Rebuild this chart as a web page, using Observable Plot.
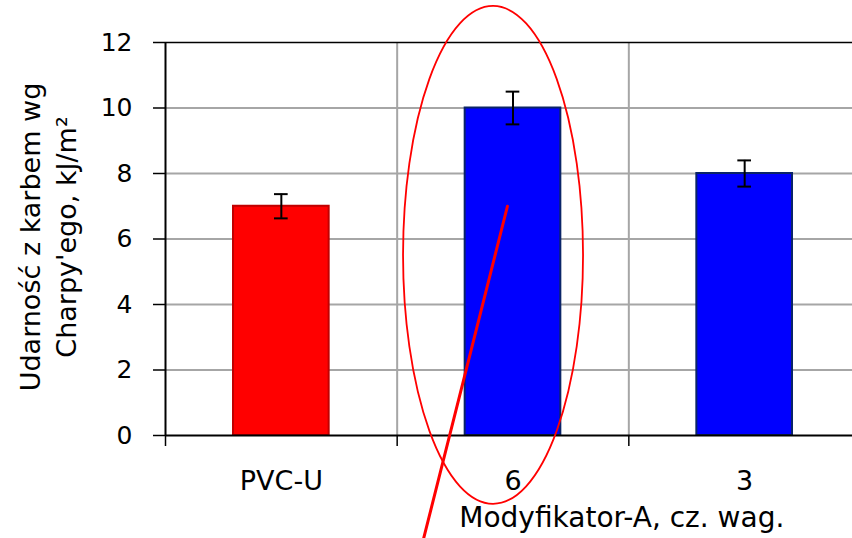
<!DOCTYPE html>
<html>
<head>
<meta charset="utf-8">
<script src="https://cdn.jsdelivr.net/npm/d3@7"></script>
<script src="https://cdn.jsdelivr.net/npm/@observablehq/plot@0.6"></script>
<style>
  html, body { margin: 0; padding: 0; background: #fff; }
  svg { display: block; }
</style>
</head>
<body>
<div id="chart"></div>
<script>
const categories = ["PVC-U", "6", "3"];
const values = [7, 10, 8];
const errors = [0.37, 0.5, 0.4];
const fills = ["#ff0000", "#0000ff", "#0000ff"];
const strokes = ["#c00000", "#0a2468", "#0a2468"];
const yTicks = [0, 2, 4, 6, 8, 10, 12];
const yGrid = [2, 4, 6, 8, 10];
const yLabel = "Udarność z karbem wg\nCharpy'ego, kJ/m²";
const xLabel = "Modyfikator-A, cz. wag.";
// annotation (red ellipse and stroke), in data units: x = category index, y = value
const ellipseAnno = {cx: 1.416, cy: 5.5, rx: 0.3885, ry: 7.6};
const lineAnno = [{x: 1.476, y: 7.0}, {x: 1.114, y: -3.15}];

const data = categories.map((c, i) => ({c, i, v: values[i], e: errors[i], fill: fills[i], stroke: strokes[i]}));
const font = "DejaVu Sans, Verdana, sans-serif";

const plot = Plot.plot({
  width: 852,
  height: 538,
  marginLeft: 165,
  marginRight: 0,
  marginTop: 42,
  marginBottom: 103,
  style: {fontFamily: font, color: "#000", background: "#fff", overflow: "visible"},
  x: {domain: [0, 3], range: [165, 860], axis: null},
  y: {domain: [0, 12], axis: null},
  marks: [
    Plot.ruleY(yGrid, {stroke: "#a6a6a6", strokeWidth: 2}),
    Plot.ruleX([1, 2], {y1: 0, y2: 12, stroke: "#a6a6a6", strokeWidth: 2}),
    Plot.ruleY([12], {stroke: "#000", strokeWidth: 1.5}),
    Plot.rectY(data, {x1: "i", x2: d => d.i + 1, y: "v", fill: "fill", stroke: "stroke", strokeWidth: 2, insetLeft: 68, insetRight: 68}),
    Plot.ruleX(data, {x: d => d.i + 0.5, y1: d => d.v - d.e, y2: d => d.v + d.e, stroke: "#000", strokeWidth: 2}),
    Plot.ruleY(data, {y: d => d.v + d.e, x1: "i", x2: d => d.i + 1, insetLeft: 109, insetRight: 109, stroke: "#000", strokeWidth: 2}),
    Plot.ruleY(data, {y: d => d.v - d.e, x1: "i", x2: d => d.i + 1, insetLeft: 109, insetRight: 109, stroke: "#000", strokeWidth: 2}),
    Plot.ruleY([0], {stroke: "#000", strokeWidth: 2}),
    Plot.ruleX([0], {y1: 0, y2: 12, stroke: "#000", strokeWidth: 2}),
    Plot.axisY({ticks: yTicks, tickSize: 12, tickPadding: 21, fontSize: 25, label: null, stroke: "#000", strokeWidth: 1.5, tickFormat: d => String(d)}),
    Plot.axisX({ticks: [0, 1, 2], tickSize: 11, tickFormat: () => "", label: null, strokeWidth: 1.5}),
    Plot.text(data, {x: d => d.i + 0.5, y: 0, text: "c", dy: 46, fontSize: 27, fill: "#000"}),
    Plot.text([xLabel], {x: 2, y: 0, dx: -7, dy: 83, text: d => d, fontSize: 28, fill: "#000"}),
    Plot.text([yLabel], {frameAnchor: "left", textAnchor: "middle", text: d => d, rotate: -90, dx: -119, dy: -2, fontSize: 27, lineHeight: 1.33, fill: "#000"}),
    Plot.line(lineAnno, {x: "x", y: "y", stroke: "#ff0000", strokeWidth: 3, clip: false})
  ]
});

const xs = plot.scale("x"), ys = plot.scale("y");
const svg = d3.select(plot);
const cxp = xs.apply(ellipseAnno.cx), cyp = ys.apply(ellipseAnno.cy);
svg.append("ellipse")
  .attr("cx", cxp)
  .attr("cy", cyp)
  .attr("rx", xs.apply(ellipseAnno.cx + ellipseAnno.rx) - cxp)
  .attr("ry", ys.apply(0) - ys.apply(ellipseAnno.ry))
  .attr("fill", "none")
  .attr("stroke", "#ff0000")
  .attr("stroke-width", 1.8);

document.getElementById("chart").appendChild(plot);
</script>
</body>
</html>
